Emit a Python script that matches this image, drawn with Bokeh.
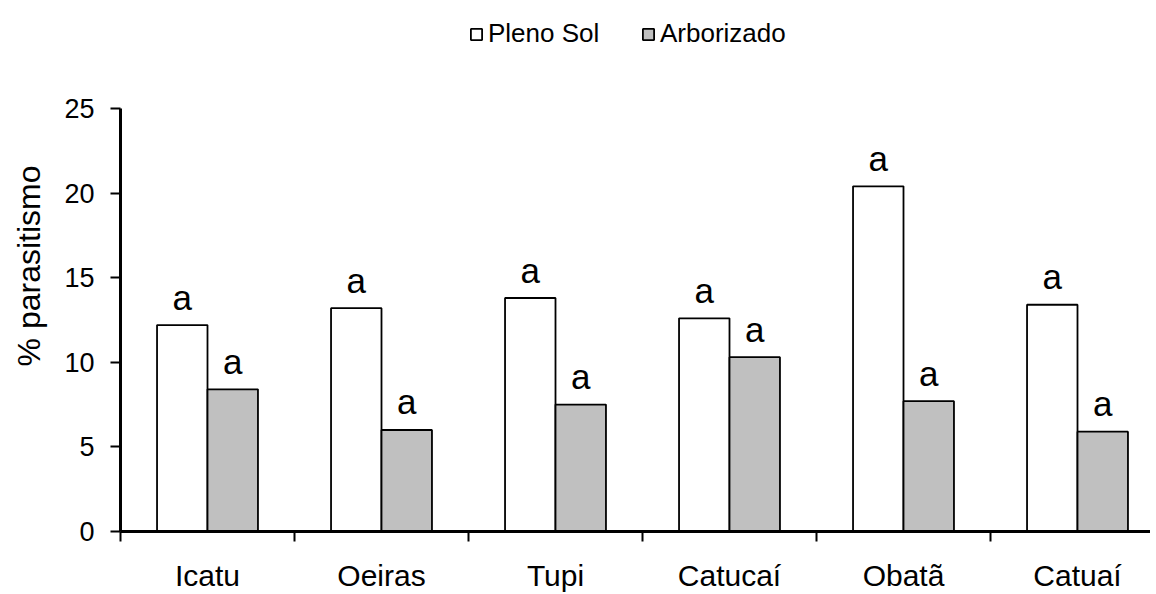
from bokeh.plotting import figure
from bokeh.models import (ColumnDataSource, Range1d, FixedTicker, Legend, LegendItem)
from bokeh.transform import dodge
from bokeh.core.properties import value
from bokeh.embed import file_html
from bokeh.resources import INLINE

# ---- data ----
categories = ["Icatu", "Oeiras", "Tupi", "Catucaí", "Obatã", "Catuaí"]
pleno_sol = [12.2, 13.2, 13.8, 12.6, 20.4, 13.4]
arborizado = [8.4, 6.0, 7.5, 10.3, 7.7, 5.9]
letters_pleno = ["a", "a", "a", "a", "a", "a"]
letters_arbor = ["a", "a", "a", "a", "a", "a"]
series_names = ["Pleno Sol", "Arborizado"]
y_ticks = [0, 5, 10, 15, 20, 25]

FONT = "Liberation Sans"

FRAME_W, FRAME_H = 1030, 531
PX_PER_CAT = 174.0
Y_TOP = 25 * FRAME_H / 423.0   # headroom above 25 for the legend

xpos = [i + 0.5 for i in range(len(categories))]
src = ColumnDataSource(dict(x=xpos, pleno=pleno_sol, arbor=arborizado,
                            lp=letters_pleno, la=letters_arbor))

p = figure(frame_width=FRAME_W, frame_height=FRAME_H, title=None,
           output_backend="svg", toolbar_location=None,
           x_range=Range1d(0, FRAME_W / PX_PER_CAT), y_range=Range1d(0, Y_TOP),
           min_border_left=120, min_border_top=0, min_border_bottom=59,
           min_border_right=0)
p.outline_line_color = None
p.xgrid.visible = False
p.ygrid.visible = False
p.background_fill_color = "white"
p.border_fill_color = "white"

bw = 0.29
r1 = p.vbar(x=dodge("x", -0.145, range=p.x_range), top="pleno", width=bw, bottom=0,
            source=src, fill_color="white", line_color="black", line_width=1.8)
r2 = p.vbar(x=dodge("x", 0.145, range=p.x_range), top="arbor", width=bw, bottom=0,
            source=src, fill_color="#C0C0C0", line_color="black", line_width=1.8)

p.text(x=dodge("x", -0.145, range=p.x_range), y="pleno", text="lp", source=src,
       text_align="center", text_baseline="alphabetic", y_offset=-28,
       text_font=value(FONT), text_font_size="35px", text_color="black")
p.text(x=dodge("x", 0.145, range=p.x_range), y="arbor", text="la", source=src,
       text_align="center", text_baseline="alphabetic", y_offset=-28,
       text_font=value(FONT), text_font_size="35px", text_color="black")

# x axis: labels at centers, ticks at category boundaries
xa = p.xaxis[0]
xa.ticker = FixedTicker(ticks=xpos, minor_ticks=list(range(len(categories) + 1)))
xa.major_label_overrides = {x: c for x, c in zip(xpos, categories)}
xa.major_tick_out = 0
xa.major_tick_in = 0
xa.minor_tick_out = 10
xa.minor_tick_in = 0
xa.minor_tick_line_color = "black"
xa.minor_tick_line_width = 2
xa.axis_line_width = 3
xa.axis_line_color = "black"
xa.major_label_text_font = FONT
xa.major_label_text_font_size = "30px"
xa.major_label_text_color = "black"
xa.major_label_standoff = 17

ya = p.yaxis[0]
ya.bounds = (0, 25)
ya.ticker = FixedTicker(ticks=y_ticks, minor_ticks=[])
ya.major_tick_out = 10
ya.major_tick_in = 0
ya.major_tick_line_width = 2
ya.major_tick_line_color = "black"
ya.axis_line_width = 3
ya.axis_line_color = "black"
ya.major_label_text_font = FONT
ya.major_label_text_font_size = "27px"
ya.major_label_text_color = "black"
ya.major_label_standoff = 16
ya.axis_label = "% parasitismo"
ya.axis_label_text_font = FONT
ya.axis_label_text_font_size = "32px"
ya.axis_label_text_font_style = "normal"
ya.axis_label_text_color = "black"
ya.axis_label_standoff = 14

def make_legend(label, renderer, vx):
    lg = Legend(items=[LegendItem(label=label, renderers=[renderer])],
                location=(vx, 482), orientation="horizontal",
                padding=0, margin=0, spacing=0,
                glyph_width=14, glyph_height=14, label_standoff=5,
                label_height=18,
                label_text_font=FONT, label_text_font_size="26px",
                label_text_color="black",
                border_line_color=None, background_fill_alpha=0)
    p.add_layout(lg, "center")

make_legend(series_names[0], r1, 349)
make_legend(series_names[1], r2, 521)

open("out.html", "w").write(file_html(p, INLINE))
